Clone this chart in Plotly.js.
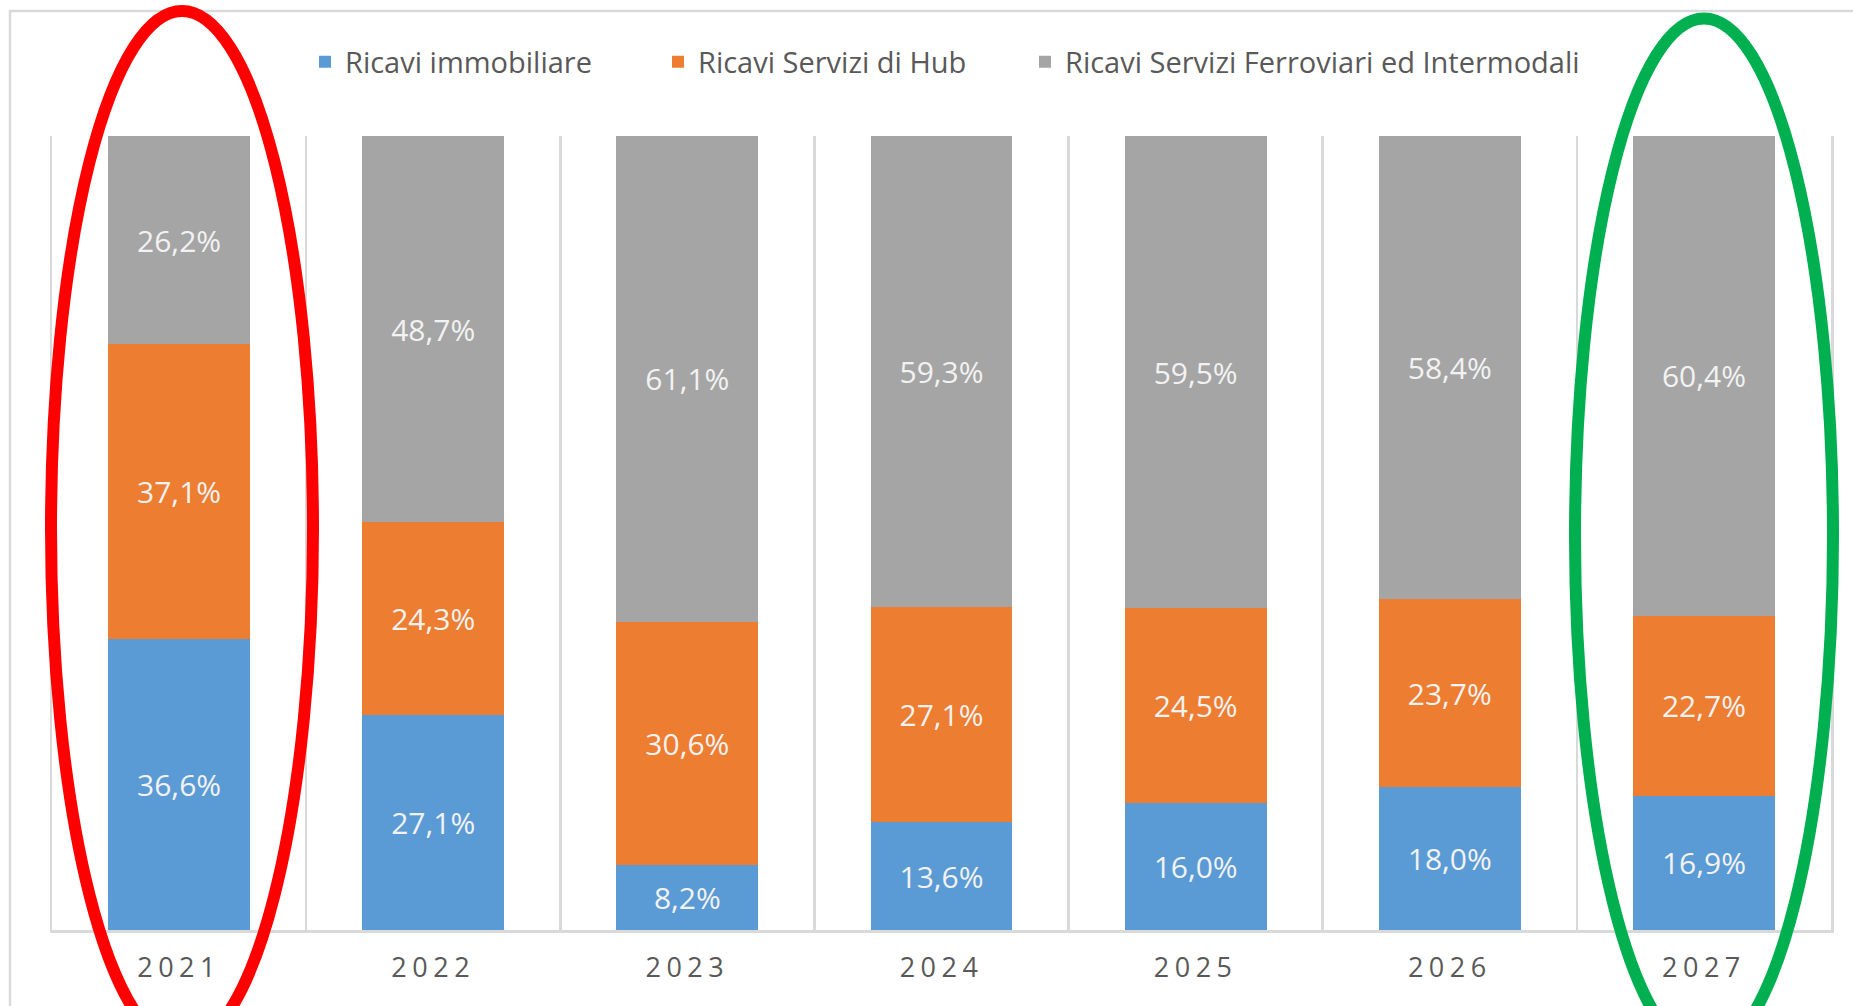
<!DOCTYPE html>
<html>
<head>
<meta charset="utf-8">
<script src="https://cdn.plot.ly/plotly-3.0.1.min.js"></script>
<style>
  html, body { margin: 0; padding: 0; background: #ffffff; }
  #chart { width: 1853px; height: 1006px; }
  #chart .xtick text { letter-spacing: 5.5px; }
</style>
</head>
<body>
<div id="chart"></div>
<script>
// ---- data ----
const years = ['2021', '2022', '2023', '2024', '2025', '2026', '2027'];
const seriesNames = ['Ricavi immobiliare', 'Ricavi Servizi di Hub', 'Ricavi Servizi Ferroviari ed Intermodali'];
const ricaviImmobiliare = [36.6, 27.1, 8.2, 13.6, 16.0, 18.0, 16.9];
const ricaviServiziHub = [37.1, 24.3, 30.6, 27.1, 24.5, 23.7, 22.7];
const ricaviFerroviari = [26.2, 48.7, 61.1, 59.3, 59.5, 58.4, 60.4];
const seriesColors = ['#5B9BD5', '#ED7D31', '#A5A5A5'];

// ---- layout geometry (pixels) ----
const W = 1853, H = 1006;
const plotL = 52, plotR = 1831, plotT = 136, plotB = 930;
const px = (x) => (x - plotL) / (plotR - plotL);
const py = (y) => (plotB - y) / (plotB - plotT);

const fmt = (v) => v.toFixed(1).replace('.', ',') + '%';
const FONT = '"Open Sans", "Noto Sans", sans-serif';

const legendIds = ['legend', 'legend2', 'legend3'];
const legendLeft = [305, 658, 1025];

const allSeries = [ricaviImmobiliare, ricaviServiziHub, ricaviFerroviari];
const traces = allSeries.map((vals, i) => ({
  type: 'bar',
  name: seriesNames[i],
  legend: legendIds[i],
  x: years,
  y: vals,
  text: vals.map(fmt),
  texttemplate: '%{text}',
  textposition: 'inside',
  insidetextanchor: 'middle',
  textangle: 0,
  constraintext: 'none',
  textfont: { family: FONT, size: 30, color: '#F2F2F2' },
  marker: { color: seriesColors[i], line: { width: 0 } },
  hoverinfo: 'skip'
}));

const legendStyle = (left) => ({
  orientation: 'h',
  x: px(left),
  xanchor: 'left',
  y: py(62),
  yanchor: 'middle',
  font: { family: FONT, size: 29, color: '#595959' },
  bgcolor: 'rgba(0,0,0,0)',
  borderwidth: 0
});

const layout = {
  width: W,
  height: H,
  margin: { l: plotL, r: W - plotR, t: plotT, b: H - plotB, pad: 0 },
  paper_bgcolor: '#ffffff',
  plot_bgcolor: '#ffffff',
  barmode: 'stack',
  barnorm: 'percent',
  bargap: 0.442,
  showlegend: true,
  legend: legendStyle(legendLeft[0]),
  legend2: legendStyle(legendLeft[1]),
  legend3: legendStyle(legendLeft[2]),
  xaxis: {
    type: 'category',
    range: [-0.5, 6.5],
    tickson: 'boundaries',
    ticks: '',
    showgrid: true,
    gridcolor: '#d9d9d9',
    gridwidth: 2.5,
    showline: true,
    linecolor: '#d9d9d9',
    linewidth: 3,
    zeroline: false,
    tickfont: { family: FONT, size: 27, color: '#595959' },
    ticklabelstandoff: 12,
    fixedrange: true
  },
  yaxis: {
    range: [0, 100],
    showticklabels: false,
    ticks: '',
    showgrid: false,
    zeroline: false,
    showline: true,
    mirror: true,
    linecolor: '#d9d9d9',
    linewidth: 2.5,
    fixedrange: true
  },
  shapes: [
    // outer frame of the chart area
    { type: 'rect', xref: 'paper', yref: 'paper', layer: 'below',
      x0: px(10), x1: px(1880), y0: py(1040), y1: py(11),
      line: { color: '#d9d9d9', width: 2.5 }, fillcolor: 'rgba(0,0,0,0)' },
    // red ellipse around 2021
    { type: 'circle', xref: 'paper', yref: 'paper', layer: 'above',
      x0: px(51), x1: px(313), y0: py(1046), y1: py(11),
      line: { color: '#FF0000', width: 12 }, fillcolor: 'rgba(0,0,0,0)' },
    // green ellipse around 2027
    { type: 'circle', xref: 'paper', yref: 'paper', layer: 'above',
      x0: px(1575), x1: px(1833), y0: py(1053), y1: py(18.5),
      line: { color: '#00B050', width: 12 }, fillcolor: 'rgba(0,0,0,0)' }
  ]
};

Plotly.newPlot('chart', traces, layout, { displayModeBar: false, staticPlot: true });
</script>
</body>
</html>
